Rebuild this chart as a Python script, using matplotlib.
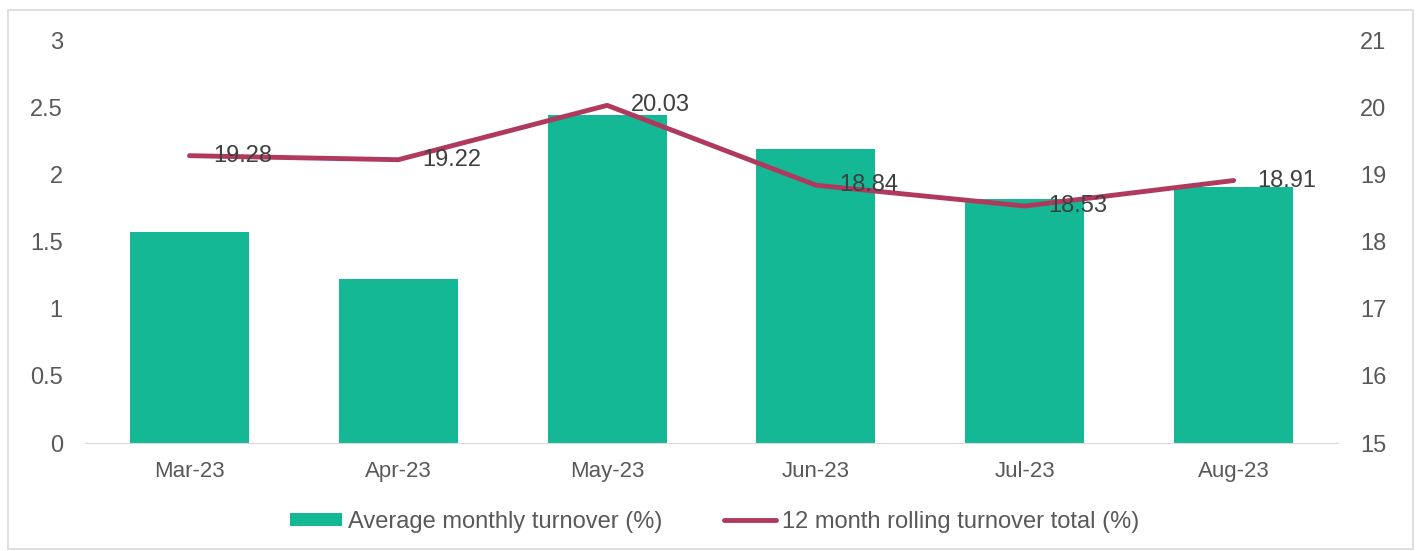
import matplotlib
matplotlib.use("Agg")
import matplotlib.pyplot as plt
from matplotlib.patches import Rectangle

plt.rcParams['font.family'] = ['Liberation Sans', 'DejaVu Sans']

# Datos
months = ['Mar-23', 'Apr-23', 'May-23', 'Jun-23', 'Jul-23', 'Aug-23']
avg_monthly = [1.57, 1.22, 2.44, 2.19, 1.82, 1.91]
rolling_12m = [19.28, 19.22, 20.03, 18.84, 18.53, 18.91]

bar_color = '#14B894'
line_color = '#B03A5E'
tick_color = '#595959'
label_color = '#404040'

fig = plt.figure(figsize=(14.18, 5.51), dpi=100)
ax = fig.add_axes([0.06, 0.196, 0.8836, 0.731])
ax2 = ax.twinx()

x = range(len(months))
bars = ax.bar(x, avg_monthly, width=0.57, color=bar_color, label='Average monthly turnover (%)', zorder=2)
line, = ax2.plot(x, rolling_12m, color=line_color, lw=3.5, solid_capstyle='round',
                 label='12 month rolling turnover total (%)', zorder=3)

# Etiquetas de datos a la derecha de cada punto
for i, v in enumerate(rolling_12m):
    ax2.annotate(f'{v:.2f}', (i, v), xytext=(17, 0), textcoords='offset points',
                 ha='left', va='center', fontsize=17, color=label_color)

ax.set_xlim(-0.5, len(months) - 0.5)
ax.set_ylim(0, 3)
ax.set_yticks([0, 0.5, 1, 1.5, 2, 2.5, 3])
ax.set_yticklabels(['0', '0.5', '1', '1.5', '2', '2.5', '3'])
ax2.set_ylim(15, 21)
ax2.set_yticks(range(15, 22))

ax.set_xticks(list(x))
ax.set_xticklabels(months)

for a in (ax, ax2):
    for s in ('top', 'left', 'right', 'bottom'):
        a.spines[s].set_visible(False)
    a.tick_params(length=0, colors=tick_color)
ax.spines['bottom'].set_visible(True)
ax.spines['bottom'].set_color('#D9D9D9')
ax.tick_params(axis='y', labelsize=17, pad=16)
ax2.tick_params(axis='y', labelsize=17, pad=16)
ax.tick_params(axis='x', labelsize=16, pad=13)

fig.legend(handles=[bars, line], loc='center', bbox_to_anchor=(0.504, 0.053), ncol=2,
           frameon=False, fontsize=17, handlelength=2.2, handleheight=0.5,
           columnspacing=2.6, handletextpad=0.25, labelcolor=tick_color)

# Marco gris alrededor de la figura
fig.patches.append(Rectangle((8 / 1418, 2 / 551), 1405 / 1418, 539 / 551, transform=fig.transFigure,
                             fill=False, edgecolor='#D9D9D9', lw=1.2))

fig.savefig('out.png', dpi=100)
